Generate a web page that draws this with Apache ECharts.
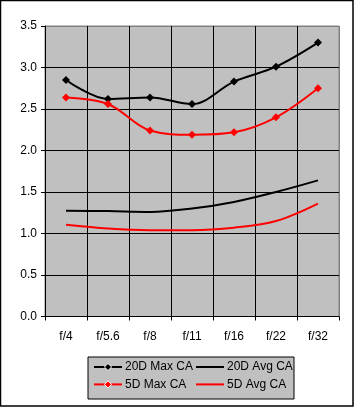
<!DOCTYPE html>
<html>
<head>
<meta charset="utf-8">
<script src="https://cdn.jsdelivr.net/npm/echarts@6/dist/echarts.min.js"></script>
<style>
html,body{margin:0;padding:0;background:#fff;}
#c{width:354px;height:408px;}
</style>
</head>
<body>
<div id="c"></div>
<script>
var categories = ['f/4','f/5.6','f/8','f/11','f/16','f/22','f/32'];
var max20D = [2.85, 2.62, 2.64, 2.56, 2.83, 3.01, 3.30];
var avg20D = [1.275, 1.27, 1.26, 1.30, 1.38, 1.50, 1.64];
var max5D = [2.64, 2.56, 2.24, 2.19, 2.22, 2.40, 2.75];
var avg5D = [1.105, 1.06, 1.04, 1.04, 1.07, 1.15, 1.36];
var yTicks = [0, 0.5, 1.0, 1.5, 2.0, 2.5, 3.0, 3.5];

var FONT = 'Liberation Sans, Arial, sans-serif';
var chart = echarts.init(document.getElementById('c'));
var hColors = yTicks.map(function(v,i){return i===yTicks.length-1?'#808080':'#000';});
var vColors = categories.map(function(){return '#000';}).concat(['#808080']);
var lineIcon = 'path://M0,0 L28,0 L28,2 L0,2 Z';

chart.setOption({
  animation: false,
  backgroundColor: '#fff',
  textStyle: {fontFamily: FONT},
  graphic: [
    {type:'rect', shape:{x:0.5,y:0.5,width:352.5,height:405.5}, style:{fill:'none',stroke:'#000',lineWidth:1.5}, z:100},
    {type:'rect', shape:{x:88,y:357,width:206,height:42}, style:{fill:'#c0c0c0',stroke:'#000',lineWidth:1}, z:1}
  ],
  grid: {left:45, right:15, top:26, bottom:91.5, show:true, backgroundColor:'#c0c0c0', borderColor:'#808080', borderWidth:1},
  legend: [
    {orient:'vertical', left:93, top:361, padding:0, itemWidth:28, itemHeight:9, itemGap:5.4, z:5,
     textStyle:{fontFamily:FONT, fontSize:12, color:'#000', padding:[0,0,0,-2]},
     data:[{name:'20D Max CA', itemStyle:{borderColor:'#fff',borderWidth:1}},{name:'5D Max CA', itemStyle:{borderColor:'#fff',borderWidth:1}}]},
    {orient:'vertical', left:196, top:361, padding:0, itemWidth:28, itemHeight:9, itemGap:5.4, z:5,
     textStyle:{fontFamily:FONT, fontSize:12, color:'#000', padding:[0,0,0,-2]},
     data:[{name:'20D Avg CA', icon:lineIcon},{name:'5D Avg CA', icon:lineIcon}]}
  ],
  xAxis: {
    type:'category', data:categories, boundaryGap:true,
    axisLine:{lineStyle:{color:'#000',width:1}},
    axisTick:{show:true, length:4, lineStyle:{color:'#000'}},
    axisLabel:{fontFamily:FONT, fontSize:12, color:'#000', margin:14},
    splitLine:{show:true, interval:0, lineStyle:{color:vColors, width:1}}
  },
  yAxis: {
    type:'value', min:0, max:3.5, interval:0.5,
    axisLine:{show:true, lineStyle:{color:'#000',width:1}},
    axisTick:{show:true, length:4, lineStyle:{color:'#000'}},
    axisLabel:{fontFamily:FONT, fontSize:12, color:'#000', margin:8, formatter:function(v){return v.toFixed(1);}},
    splitLine:{show:true, lineStyle:{color:hColors, width:1}}
  },
  series: [
    {name:'20D Max CA', type:'line', data:max20D, smooth:0.35, symbol:'diamond', symbolSize:8,
     itemStyle:{color:'#000'}, lineStyle:{color:'#000', width:2}, z:4},
    {name:'20D Avg CA', type:'line', data:avg20D, smooth:0.35, symbol:'none',
     itemStyle:{color:'#000'}, lineStyle:{color:'#000', width:2}, z:3},
    {name:'5D Max CA', type:'line', data:max5D, smooth:0.35, symbol:'diamond', symbolSize:8,
     itemStyle:{color:'#ff0000'}, lineStyle:{color:'#ff0000', width:2}, z:4},
    {name:'5D Avg CA', type:'line', data:avg5D, smooth:0.35, symbol:'none',
     itemStyle:{color:'#ff0000'}, lineStyle:{color:'#ff0000', width:2}, z:3}
  ]
});
</script>
</body>
</html>
